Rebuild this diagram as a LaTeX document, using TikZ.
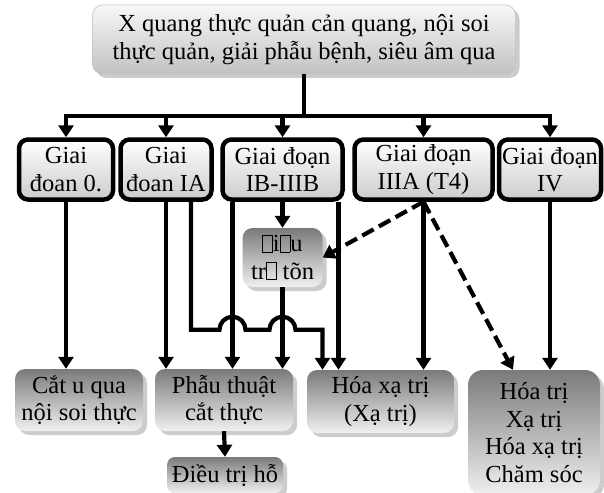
\documentclass[tikz,border=0pt]{standalone}
\usepackage{fontspec}
\setmainfont{Liberation Serif}
\usetikzlibrary{arrows.meta,shadows}

% empty box printed for a missing glyph
\newcommand{\nochar}{{\setlength{\fboxsep}{0pt}\setlength{\fboxrule}{0.8pt}\fbox{\rule{0pt}{16pt}\hspace{9pt}}}}

\tikzset{
  every node/.style={font=\fontsize{24.5}{27.5}\selectfont, align=center, inner sep=1pt},
  headbox/.style={rounded corners=10pt, top color=black!3, bottom color=black!24, draw=black!25, line width=0.5pt,
    drop shadow={shadow xshift=4pt, shadow yshift=-4pt, fill=black!40}},
  stagebox/.style={rounded corners=9pt, draw=black, line width=4.5pt, top color=white, bottom color=black!20},
  treatbox/.style={rounded corners=10pt, top color=black!52, bottom color=black!6,
    drop shadow={shadow xshift=4pt, shadow yshift=-4pt, fill=black!40}},
  link/.style={line width=4.2pt, -{Triangle[width=15pt,length=12pt]}},
  hint/.style={link, dash pattern=on 13pt off 6pt},
}

\begin{document}
\begin{tikzpicture}[x=1pt,y=1pt]
\useasboundingbox (0,0) rectangle (604,-492);
\clip (0,0) rectangle (604,-492);

% source of the staging
\node[headbox, minimum width=423, minimum height=69] (head) at (304,-39.5)
  {X quang thực quản cản quang, nội soi\\thực quản, giải phẫu bệnh, siêu âm qua};
\coordinate (bus) at (304,-116);

% stages
\node[stagebox, minimum width=94, minimum height=60] (s0) at (66,-169.5) {Giai\\đoan 0.};
\node[stagebox, minimum width=91, minimum height=60] (s1) at (166,-169.5) {Giai\\đoan IA};
\node[stagebox, minimum width=120, minimum height=60] (s2) at (282.5,-169.5) {Giai đoạn\\IB-IIIB};
\node[stagebox, minimum width=138, minimum height=60] (s3) at (423.5,-169.5) {Giai đoạn\\IIIA (T4)};
\node[stagebox, minimum width=102, minimum height=60] (s4) at (550,-169.5) {Giai đoạn\\IV};

% treatments
\node[treatbox, minimum width=80, minimum height=59] (prior) at (282.5,-257.5) {\nochar i\nochar u\\tr\nochar{} tõn};
\node[treatbox, minimum width=128, minimum height=62] (b0) at (79,-400) {Cắt u qua\\nội soi thực};
\node[treatbox, minimum width=138, minimum height=62] (b1) at (224,-400) {Phẫu thuật\\cắt thực};
\node[treatbox, minimum width=147, minimum height=63] (b2) at (380.5,-401.5) {Hóa xạ trị\\(Xạ trị)};
\node[treatbox, minimum width=132, minimum height=125, rounded corners=15pt] (b3) at (534,-432.5)
  {Hóa trị\\Xạ trị\\Hóa xạ trị\\Chăm sóc};
\node[treatbox, minimum width=116, minimum height=36, rounded corners=8pt] (care) at (225,-475) {Điều trị hỗ};

% bus to the stages
\draw[line width=4.2pt] (head.south) -- (bus);
\draw[line width=4.2pt] ([xshift=-2.1pt]s0.north |- bus) -- ([xshift=2.1pt]s4.north |- bus);
\foreach \s in {s0,s1,s2,s3,s4}
  \draw[link] (\s.north |- bus) -- (\s.north);

% stages to treatments
\draw[link] (s0.south) -- (s0.south |- b0.north);
\draw[link] (s1.south) -- (s1.south |- b1.north);
\draw[link] ([xshift=-50]s2.south) -- ([xshift=-50]s2.south |- b1.north);
\draw[link] (s2.south) -- (prior.north);
\draw[link] (prior.south) -- (prior.south |- b1.north);
\draw[link] ([xshift=56]s2.south) -- ([xshift=56]s2.south |- b2.north);
\draw[link] (s3.south) -- (s3.south |- b2.north);
\draw[link] (s4.south) -- (s4.south |- b3.north);
\draw[link] ([xshift=25]s1.south) -- ++(0,-128) -- ++(28.5,0) arc[start angle=180, end angle=0, radius=13]
  -- ++(24,0) arc[start angle=180, end angle=0, radius=13] -| ([xshift=-58]b2.north);
\draw[hint] (s3.south) -- (prior.east);
\draw[hint] (s3.south) -- ([xshift=-21]b3.north);
\draw[link] (b1.south) -- (care.north);
\end{tikzpicture}
\end{document}
